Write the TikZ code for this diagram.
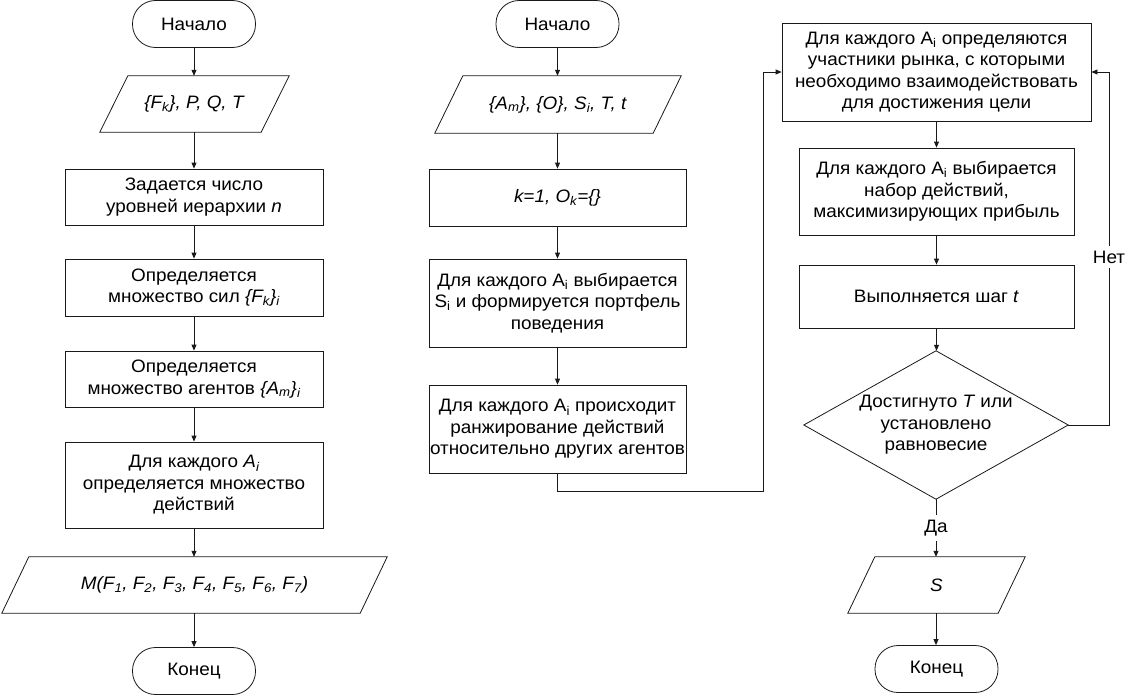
\documentclass[tikz,border=0pt]{standalone}
\usepackage{fontspec}
\setmainfont[FakeStretch=1.05]{Liberation Sans}
\usetikzlibrary{arrows.meta}

% draws the slanted outline of an input/output block around a named node
\newcommand\slantbox[2]{%
  \draw[line] ([xshift=#2/2]#1.north west) -- ([xshift=#2/2]#1.north east)
    -- ([xshift=-#2/2]#1.south east) -- ([xshift=-#2/2]#1.south west) -- cycle;}

\begin{document}
\begin{tikzpicture}[x=1pt,y=-1pt,
  font=\fontsize{18}{21.5}\selectfont,
  every node/.style={align=center, inner sep=0pt},
  line/.style={draw=black!90, line width=0.8pt},
  term/.style={line, rectangle, rounded corners=23pt, minimum width=123pt, minimum height=47pt},
  proc/.style={line, rectangle},
  io/.style={rectangle, minimum height=56pt},
  arr/.style={line, -{Triangle[length=6pt,width=5pt]}},
  lbl/.style={fill=white, inner xsep=2pt, inner ysep=5pt}
]
\useasboundingbox (0,0) rectangle (1126,696);

% ---------- left column ----------
\node[term] (s1) at (194,24) {Начало};
\node[io, minimum width=161pt] (p1) at (194.5,104) {\textit{\{F\textsubscript{k}\}, P, Q, T}};
\slantbox{p1}{28}
\node[proc, minimum width=258pt, minimum height=56pt] (b1) at (194,197)
  {Задается число\\уровней иерархии \textit{n}};
\node[proc, minimum width=258pt, minimum height=57pt] (b2) at (194,287.5)
  {Определяется\\множество сил \textit{\{F\textsubscript{k}\}\textsubscript{i}}};
\node[proc, minimum width=258pt, minimum height=56pt] (b3) at (194,379)
  {Определяется\\множество агентов \textit{\{A\textsubscript{m}\}\textsubscript{i}}};
\node[proc, minimum width=258pt, minimum height=86pt] (b4) at (194,485)
  {Для каждого \textit{A\textsubscript{i}}\\определяется множество\\действий};
\node[io, minimum width=358pt] (p2) at (194.5,585)
  {\textit{M(F\textsubscript{1}, F\textsubscript{2}, F\textsubscript{3}, F\textsubscript{4}, F\textsubscript{5}, F\textsubscript{6}, F\textsubscript{7})}};
\slantbox{p2}{27}
\node[term] (e1) at (194,671) {Конец};

\draw[arr] (s1) -- (s1 |- p1.north);
\draw[arr] (s1 |- p1.south) -- (b1);
\draw[arr] (b1) -- (b2);
\draw[arr] (b2) -- (b3);
\draw[arr] (b3) -- (b4);
\draw[arr] (b4) -- (b4 |- p2.north);
\draw[arr] (b4 |- p2.south) -- (e1);

% ---------- middle column ----------
\node[term] (s2) at (557.5,24) {Начало};
\node[io, minimum width=218pt, minimum height=57pt] (p3) at (558,104.5)
  {\textit{\{A\textsubscript{m}\}, \{O\}, S\textsubscript{i}, T, t}};
\slantbox{p3}{28}
\node[proc, minimum width=257pt, minimum height=57pt] (c1) at (557.5,197.5)
  {\textit{k=1, O\textsubscript{k}=\{\}}};
\node[proc, minimum width=257pt, minimum height=88pt] (c2) at (557.5,303)
  {Для каждого A\textsubscript{i} выбирается\\S\textsubscript{i} и формируется портфель\\поведения};
\node[proc, minimum width=257pt, minimum height=88pt] (c3) at (557.5,429)
  {Для каждого A\textsubscript{i} происходит\\ранжирование действий\\относительно других агентов};

\draw[arr] (s2) -- (s2 |- p3.north);
\draw[arr] (s2 |- p3.south) -- (c1);
\draw[arr] (c1) -- (c2);
\draw[arr] (c2) -- (c3);

% ---------- right column ----------
\node[proc, minimum width=309pt, minimum height=98pt] (d1) at (936.5,72)
  {Для каждого A\textsubscript{i} определяются\\участники рынка, с которыми\\необходимо взаимодействовать\\для достижения цели};
\node[proc, minimum width=275pt, minimum height=87pt] (d2) at (936.5,191.5)
  {Для каждого A\textsubscript{i} выбирается\\набор действий,\\максимизирующих прибыль};
\node[proc, minimum width=275pt, minimum height=63pt] (d3) at (936.5,296.5)
  {Выполняется шаг \textit{t}};
\node[rectangle, minimum width=264pt, minimum height=148pt] (dia) at (936,425)
  {Достигнуто \textit{T} или\\установлено\\равновесие};
\draw[line] (dia.north) -- (dia.east) -- (dia.south) -- (dia.west) -- cycle;
\node[io, minimum width=150pt] (p4) at (936.5,585) {\textit{S}};
\slantbox{p4}{27}
\node[term] (e2) at (936.5,669) {Конец};

\draw[arr] (d1) -- (d2);
\draw[arr] (d2) -- (d3);
\draw[arr] (d3.south) -- (d3.south |- dia.north);
\draw[arr] (dia.south) -- (dia.south |- p4.north);
\draw[arr] (dia.south |- p4.south) -- (dia.south |- e2.north);

% ---------- loops ----------
\coordinate (lp) at (763,491);
\draw[arr] (c3.south) |- (lp) |- (d1.west);
\coordinate (rp) at (1109,425);
\draw[arr] (dia.east) -- (rp) |- (d1.east);

\node[lbl] (no) at (1109,257) {Нет};
\node[lbl] (yes) at (936,528) {Да};
\end{tikzpicture}
\end{document}
